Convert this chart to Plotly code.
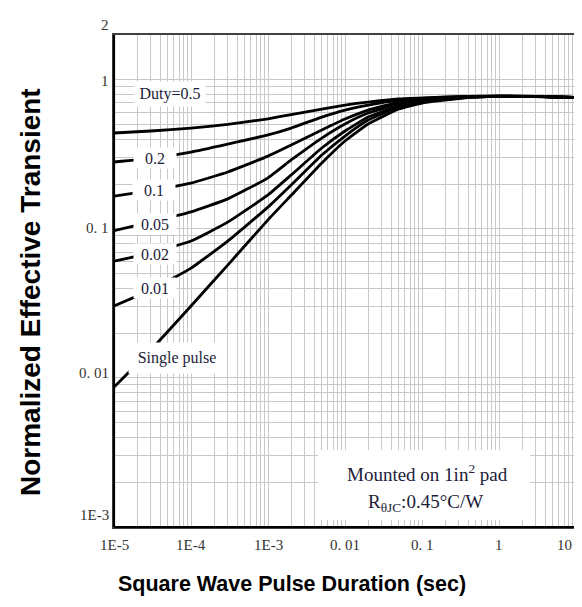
import math
import plotly.graph_objects as go

# Pulse duration (sec)
pulse_t = [1e-5, 3e-5, 1e-4, 3e-4, 1e-3, 2e-3, 5e-3, 1e-2, 2e-2, 5e-2, 0.1, 0.3, 1, 3, 10]

# Normalized effective transient thermal impedance per duty cycle
duty_05 = [0.440, 0.454, 0.475, 0.502, 0.548, 0.585, 0.637, 0.678, 0.710, 0.744, 0.755, 0.773, 0.779, 0.775, 0.761]
duty_02 = [0.281, 0.297, 0.328, 0.371, 0.427, 0.475, 0.563, 0.627, 0.678, 0.732, 0.755, 0.772, 0.778, 0.775, 0.761]
duty_01 = [0.166, 0.181, 0.203, 0.241, 0.308, 0.365, 0.461, 0.546, 0.627, 0.710, 0.744, 0.767, 0.777, 0.774, 0.761]
duty_005 = [0.0972, 0.111, 0.130, 0.159, 0.220, 0.290, 0.407, 0.506, 0.599, 0.689, 0.732, 0.767, 0.777, 0.774, 0.761]
duty_002 = [0.0608, 0.0688, 0.0829, 0.111, 0.169, 0.230, 0.349, 0.454, 0.563, 0.668, 0.721, 0.761, 0.776, 0.774, 0.761]
duty_001 = [0.0304, 0.0389, 0.0546, 0.0829, 0.140, 0.197, 0.313, 0.420, 0.538, 0.658, 0.710, 0.755, 0.775, 0.773, 0.761]
single_pulse = [0.00868, 0.0154, 0.0304, 0.0572, 0.115, 0.168, 0.277, 0.389, 0.506, 0.637, 0.699, 0.750, 0.774, 0.773, 0.761]

series = [duty_05, duty_02, duty_01, duty_005, duty_002, duty_001, single_pulse]
series_names = ["Duty=0.5", "0.2", "0.1", "0.05", "0.02", "0.01", "Single pulse"]

# Curve labels: text, x, y (data values)
label_text = ["Duty=0.5", "0.2", "0.1", "0.05", "0.02", "0.01", "Single pulse"]
label_x = [5.3e-5, 3.4e-5, 3.3e-5, 3.4e-5, 3.4e-5, 3.4e-5, 6.6e-5]
label_y = [0.80, 0.299, 0.182, 0.108, 0.0678, 0.0401, 0.0136]

x_tickvals = [1e-5, 1e-4, 1e-3, 1e-2, 1e-1, 1, 10]
x_ticktext = ["1E-5", "1E-4", "1E-3", "0. 01", "0. 1", "1", "10"]
y_tickvals = [1e-3, 1e-2, 1e-1, 1, 2]
y_ticktext = ["1E-3", "0. 01", "0. 1", "1", "2"]

X_RANGE = [-5, 1]
Y_RANGE = [-3, math.log10(2)]

# ---- styling ----
label_box_w = [68, 40, 40, 40, 40, 40, 94]
label_box_h = [22, 18, 18, 18, 18, 18, 28]
y_label_shift = [12, 5, 1, -1, 10]   # vertical nudges of y tick labels (px)

fig = go.Figure()
for name, ys in zip(series_names, series):
    fig.add_trace(go.Scatter(x=pulse_t, y=ys, mode="lines", name=name,
                             line=dict(color="black", width=2.8, shape="spline", smoothing=0.4),
                             showlegend=False, hoverinfo="skip"))

label_font = dict(family="Liberation Serif", size=16, color="#1c1c3a")
for text, lx, ly, w, h in zip(label_text, label_x, label_y, label_box_w, label_box_h):
    fig.add_annotation(x=math.log10(lx), y=math.log10(ly), xref="x", yref="y", text=text,
                       showarrow=False, bgcolor="white", width=w, height=h, font=label_font,
                       xanchor="center", yanchor="middle")

tick_font = dict(family="Liberation Serif", size=15, color="#333333")

# y tick labels (placed beside the axis)
for v, t, s in zip(y_tickvals, y_ticktext, y_label_shift):
    py = (math.log10(v) - Y_RANGE[0]) / (Y_RANGE[1] - Y_RANGE[0])
    fig.add_annotation(xref="paper", yref="paper", x=0, y=py, text=t, showarrow=False,
                       xanchor="right", yanchor="middle", xshift=-3, yshift=s, font=tick_font)
# x tick labels
for v, t in zip(x_tickvals, x_ticktext):
    px = (math.log10(v) - X_RANGE[0]) / (X_RANGE[1] - X_RANGE[0])
    last = v == x_tickvals[-1]
    fig.add_annotation(xref="paper", yref="paper", x=px, y=0, text=t, showarrow=False,
                       xanchor="right" if last else "center", yanchor="middle",
                       xshift=-2 if last else 0, yshift=-18, font=tick_font)

# Info box
fig.add_shape(type="rect", xref="paper", yref="paper",
              x0=(318 - 114) / 462, x1=(530 - 114) / 462,
              y0=(527 - 520) / 492, y1=(527 - 450) / 492,
              fillcolor="white", line=dict(width=0), layer="above")
box_font = dict(family="Liberation Serif", size=19, color="#1c1c3a")
fig.add_annotation(xref="paper", yref="paper", x=(427 - 114) / 462, y=(527 - 473) / 492,
                   text="Mounted on 1in<sup>2</sup> pad", showarrow=False, font=box_font,
                   xanchor="center", yanchor="middle")
fig.add_annotation(xref="paper", yref="paper", x=(425 - 114) / 462, y=(527 - 503) / 492,
                   text="R<sub>θJC</sub>:0.45°C/W", showarrow=False, font=box_font,
                   xanchor="center", yanchor="middle")

# Axis frame: thicker left/bottom
fig.add_shape(type="line", xref="paper", yref="paper", x0=0, x1=0, y0=0, y1=1,
              line=dict(color="black", width=2.2), layer="above")
fig.add_shape(type="line", xref="paper", yref="paper", x0=0, x1=1, y0=0, y1=0,
              line=dict(color="black", width=2.2), layer="above")

# Axis titles
fig.add_annotation(xref="paper", yref="paper", x=(292 - 114) / 462, y=(527 - 584) / 492,
                   text="<b>Square Wave Pulse Duration (sec)</b>", showarrow=False,
                   font=dict(family="Liberation Sans", size=21.5, color="black"),
                   xanchor="center", yanchor="middle")
fig.add_annotation(xref="paper", yref="paper", x=(30 - 114) / 462, y=(527 - 292) / 492,
                   text="<b>Normalized Effective Transient</b>", showarrow=False,
                   font=dict(family="Liberation Sans", size=28, color="black"),
                   textangle=-90, xanchor="center", yanchor="middle")

grid = "#c8c8c8"
fig.update_xaxes(type="log", range=X_RANGE, tickmode="array", tickvals=x_tickvals,
                 showticklabels=False,
                 showgrid=True, gridcolor=grid, gridwidth=1.2,
                 minor=dict(showgrid=True, gridcolor=grid, gridwidth=1.2, dtick="D1", ticks=""),
                 showline=True, linecolor="#404040", linewidth=1.5, mirror=True,
                 ticks="", zeroline=False)
fig.update_yaxes(type="log", range=Y_RANGE, tickmode="array", tickvals=y_tickvals,
                 showticklabels=False,
                 showgrid=True, gridcolor=grid, gridwidth=1.2,
                 minor=dict(showgrid=True, gridcolor=grid, gridwidth=1.2, dtick="D1", ticks=""),
                 showline=True, linecolor="#404040", linewidth=1.5, mirror=True,
                 ticks="", zeroline=False)

# The page adds an 8 px body margin, so the figure is sized to fit inside the window.
fig.update_layout(width=574, height=591, margin=dict(l=106, r=6, t=27, b=72, autoexpand=False),
                  plot_bgcolor="white", paper_bgcolor="white")

fig.write_html("out.html")
